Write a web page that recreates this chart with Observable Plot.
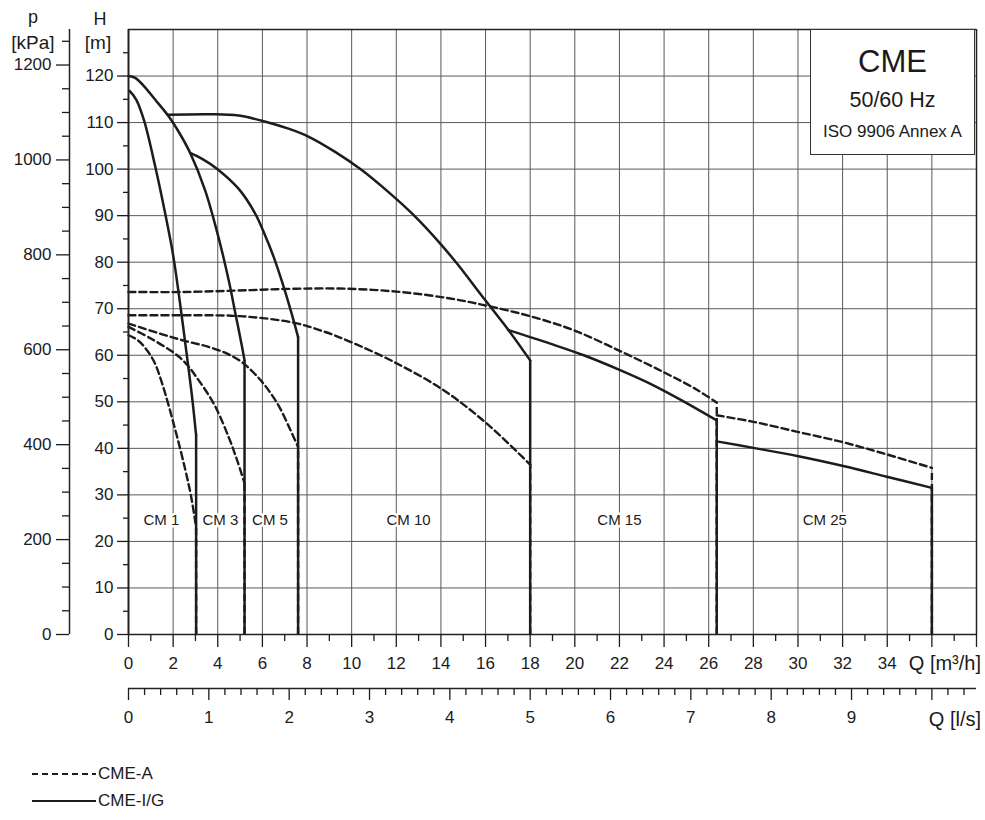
<!DOCTYPE html>
<html><head><meta charset="utf-8">
<script src="https://cdn.jsdelivr.net/npm/d3@7"></script>
<script src="https://cdn.jsdelivr.net/npm/@observablehq/plot@0.6"></script>
<style>
body{margin:0;background:#fff;font-family:"Liberation Sans",Arial,sans-serif;color:#1a1a1a}
#wrap{position:relative;width:985px;height:820px;overflow:hidden}
.abs{position:absolute;white-space:nowrap;line-height:1}
#box{position:absolute;left:810px;top:29px;width:163px;height:124px;background:#fff;border:1.5px solid #333}
#box div{position:absolute;left:0;width:100%;text-align:center;line-height:1;white-space:nowrap}
</style></head><body><div id="wrap"></div>
<script>
// ---- axis ticks ----
const hMajor = [0,10,20,30,40,50,60,70,80,90,100,110,120];
const hMinor = [5,15,25,35,45,55,65,75,85,95,105,115,125];
const hGrid  = [10,20,30,40,50,60,70,80,90,100,110,120];
const pMajor = [0,200,400,600,800,1000,1200];
const pMinor = [50,100,150,250,300,350,450,500,550,650,700,750,850,900,950,1050,1100,1150,1250];
const qMajor = [0,2,4,6,8,10,12,14,16,18,20,22,24,26,28,30,32,34,36,38];
const qLabelMax = 34;
const qMinor = [1,3,5,7,9,11,13,15,17,19,21,23,25,27,29,31,33,35,37];
const qGrid  = [2,4,6,8,10,12,14,16,18,20,22,24,26,28,30,32,34,36];
const lsMajor = [0,1,2,3,4,5,6,7,8,9,10];
const lsLabelMax = 9;
const lsMinor = d3.range(1, 53).map(i => i / 5).filter(v => Math.abs(v - Math.round(v)) > 1e-6);
const M3H_PER_LS = 3.6;
const M_PER_KPA = 0.101972;

// ---- CME-I/G curves (solid): [Q m3/h, H m]; each drops vertically to 0 at its last point ----
const cm1IG  = [[0.05,116.8],[0.35,114.9],[0.7,110.4],[1.2,100.5],[1.6,91.5],[2.0,81.5],[2.3,71.5],[2.6,60.5],[2.85,51],[3.03,42.8]];
const cm3IG  = [[0,120],[0.3,119.6],[0.7,117.8],[1.2,114.9],[1.79,111.4],[2.3,107.6],[2.76,103.5],[3.43,95.5],[4.03,85.4],[4.49,76.1],[4.79,69],[5.09,61.8],[5.2,58.9]];
const cm5IG  = [[2.76,103.5],[3.3,102.2],[3.96,100.1],[4.93,95.8],[5.67,90.5],[6.1,86],[6.5,81.2],[6.88,75.8],[7.26,69.8],[7.6,63.9]];
const cm10IG = [[1.76,111.7],[3.73,111.8],[4.93,111.5],[5.97,110.4],[7.17,108.7],[8.06,107],[9.26,103.7],[10.45,99.8],[11.64,95.1],[12.78,90.1],[13.97,84],[14.72,79.7],[15.99,71.8],[17.03,65.4],[18,58.9]];
const cm15IG = [[17.03,65.4],[18.9,62.5],[20.4,60],[22.03,56.8],[23.5,53.6],[24.87,50.1],[26.36,46]];
const cm25IG = [[26.36,41.5],[28,40.1],[30.02,38.3],[32.03,36.2],[33.98,33.9],[36,31.5]];

// ---- CME-A curves (dashed) ----
const cm1A  = [[0,64.3],[0.4,63.3],[0.76,61.5],[1.15,58.6],[1.51,53.9],[2.1,43.9],[2.55,35.3],[2.8,29.8],[3.03,23.1]];
const cm3A  = [[0,66.1],[1.0,63.6],[2.1,60.3],[2.6,58.1],[3.0,55.6],[3.82,49.6],[4.49,42.4],[4.87,37.4],[5.2,32.5]];
const cm5A  = [[0,66.8],[1.58,64.4],[2.6,63.0],[3.52,61.9],[4.3,60.6],[5.0,58.8],[5.6,56.3],[6.1,53.6],[6.7,49.4],[7.25,44.0],[7.6,40.3]];
const cm10A = [[0,68.6],[2.5,68.6],[5.0,68.4],[7.4,67],[8.82,65],[9.94,62.9],[11.88,58.6],[14.12,52.5],[16.06,45.3],[18,36.5]];
const cm15A = [[0,73.6],[2.5,73.6],[5.46,74],[7.5,74.3],[9.79,74.3],[12.18,73.6],[14.42,72.2],[16.1,70.6],[18,68.4],[19.94,65.4],[22.03,60.9],[23.97,56.4],[25.47,52.6],[26.36,49.8]];
const cm25A = [[26.36,47.1],[28,45.7],[30.02,43.5],[32.03,41.3],[33.98,38.7],[36,35.8]];

// ---- model labels ----
const cmNames  = ["CM 1","CM 3","CM 5","CM 10","CM 15","CM 25"];
const cmLabelQ = [1.47,4.12,6.34,12.55,22.0,31.2];
const cmLabelH = [24.5,24.5,24.5,24.5,24.5,24.5];

const solidSeries = [["CM 1",cm1IG],["CM 3",cm3IG],["CM 5",cm5IG],["CM 10",cm10IG],["CM 15",cm15IG],["CM 25",cm25IG]];
const dashedSeries = [["CM 1",cm1A],["CM 3",cm3A],["CM 5",cm5A],["CM 10",cm10A],["CM 15",cm15A],["CM 25",cm25A]];
const toRows = s => s.flatMap(([id, pts]) => pts.map(([q, h]) => ({id, q, h})));
const lastPt = pts => ({q: pts[pts.length-1][0], h: pts[pts.length-1][1]});
const solidRows = toRows(solidSeries);
const dashedRows = toRows(dashedSeries);
const solidDrops = solidSeries.map(([id, pts]) => ({id, ...lastPt(pts)}));
const dashedDrops = dashedSeries.map(([id, pts]) => ({id, ...lastPt(pts)}));
const labels = cmNames.map((t, i) => ({t, q: cmLabelQ[i], h: cmLabelH[i]}));

const ink = "#1c1c1c";
const gridC = "#5a5a5a";
const chart = Plot.plot({
  width: 985, height: 750,
  marginLeft: 128, marginRight: 9, marginTop: 29, marginBottom: 116,
  x: {domain: [0, 38], label: null},
  y: {domain: [0, 130], label: null},
  style: {fontFamily: "'Liberation Sans', Arial, sans-serif", fontSize: "17px", color: ink, background: "white", overflow: "visible"},
  marks: [
    Plot.gridX(qGrid, {stroke: gridC, strokeOpacity: 1, strokeWidth: 1}),
    Plot.gridY(hGrid, {stroke: gridC, strokeOpacity: 1, strokeWidth: 1}),
    Plot.text(labels, {x: "q", y: "h", text: "t", fontSize: 15, fill: ink, stroke: "white", strokeWidth: 5}),
    Plot.line(dashedRows, {x: "q", y: "h", z: "id", stroke: ink, strokeWidth: 2.4, strokeDasharray: "7,4", curve: "catmull-rom"}),
    Plot.ruleX(dashedDrops, {x: "q", y1: 0, y2: "h", stroke: ink, strokeWidth: 2.4, strokeDasharray: "7,4"}),
    Plot.line(solidRows, {x: "q", y: "h", z: "id", stroke: ink, strokeWidth: 2.5, curve: "catmull-rom"}),
    Plot.ruleX(solidDrops, {x: "q", y1: 0, y2: "h", stroke: ink, strokeWidth: 2.5}),
    // frame
    Plot.ruleY([130], {stroke: "#222", strokeWidth: 1.5}),
    Plot.ruleX([38], {stroke: "#222", strokeWidth: 1.5}),
    Plot.ruleY([0], {stroke: "#222", strokeWidth: 1.5}),
    Plot.ruleX([0], {stroke: "#222", strokeWidth: 2}),
    // H axis
    Plot.axisY(hMajor, {tickSize: 11, tickPadding: 4, label: null, strokeWidth: 1.3}),
    Plot.axisY(hMinor, {tickSize: 5, tickFormat: () => "", label: null, strokeWidth: 1.3}),
    // p axis
    Plot.ruleX([0], {dx: -59, stroke: "#222", strokeWidth: 1.5}),
    Plot.axisY(pMajor.map(p => p * M_PER_KPA), {dx: -59, tickSize: 13, tickPadding: 5, label: null, strokeWidth: 1.3, tickFormat: d => String(Math.round(d / M_PER_KPA))}),
    Plot.axisY(pMinor.map(p => p * M_PER_KPA), {dx: -59, tickSize: 7, label: null, strokeWidth: 1.3, tickFormat: () => ""}),
    // Q m3/h axis
    Plot.axisX(qMajor, {tickSize: 13, tickPadding: 9, label: null, strokeWidth: 1.3, tickFormat: d => d <= qLabelMax ? String(d) : ""}),
    Plot.axisX(qMinor, {tickSize: 7, label: null, strokeWidth: 1.3, tickFormat: () => ""}),
    // Q l/s axis
    Plot.ruleY([0], {dy: 54, stroke: "#222", strokeWidth: 1.5}),
    Plot.axisX(lsMajor.map(v => v * M3H_PER_LS), {dy: 54, tickSize: 12, tickPadding: 10, label: null, strokeWidth: 1.3, tickFormat: d => { const v = Math.round(d / M3H_PER_LS); return v <= lsLabelMax ? String(v) : ""; }}),
    Plot.axisX(lsMinor.map(v => v * M3H_PER_LS), {dy: 54, tickSize: 7, label: null, strokeWidth: 1.3, tickFormat: () => ""})
  ]
});

const wrap = document.getElementById("wrap");
wrap.appendChild(chart);
wrap.insertAdjacentHTML("beforeend", `
  <div class="abs" style="left:8px;width:50px;text-align:center;top:8px;font-size:18px">p</div>
  <div class="abs" style="left:3px;width:60px;text-align:center;top:33px;font-size:19px">[kPa]</div>
  <div class="abs" style="left:80px;width:40px;text-align:center;top:10px;font-size:18px">H</div>
  <div class="abs" style="left:78px;width:40px;text-align:center;top:33px;font-size:19px">[m]</div>
  <div class="abs" style="right:4px;top:653px;font-size:20px">Q [m³/h]</div>
  <div class="abs" style="right:4px;top:709px;font-size:20px">Q [l/s]</div>
  <div id="box">
    <div style="top:16px;font-size:31px">CME</div>
    <div style="top:60px;font-size:21.5px">50/60 Hz</div>
    <div style="top:93px;font-size:17px">ISO 9906 Annex A</div>
  </div>
  <div class="abs" style="left:30px;top:764px;font-size:17px">
    <svg width="68" height="18" style="vertical-align:middle"><line x1="2" x2="66" y1="9" y2="9" stroke="${ink}" stroke-width="2" stroke-dasharray="6,4"/></svg><span style="vertical-align:middle">CME-A</span>
  </div>
  <div class="abs" style="left:30px;top:791px;font-size:17px">
    <svg width="68" height="18" style="vertical-align:middle"><line x1="2" x2="66" y1="9" y2="9" stroke="${ink}" stroke-width="2"/></svg><span style="vertical-align:middle">CME-I/G</span>
  </div>
`);
</script>
</body></html>
